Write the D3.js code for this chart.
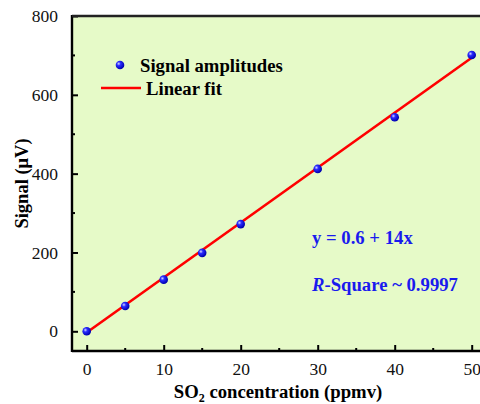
<!DOCTYPE html>
<html>
<head>
<meta charset="utf-8">
<script src="https://cdn.jsdelivr.net/npm/d3@7"></script>
<style>
  body { margin: 0; background: #fff; }
  svg { display: block; font-family: "Liberation Serif", "Times New Roman", serif; }
</style>
</head>
<body>
<div id="chart"></div>
<script>
// 数据
const concentrations = [0, 5, 10, 15, 20, 30, 40, 50];
const amplitudes = [0, 64, 131, 199, 272, 412, 543, 701];
// 拟合直线两端
const fitX = [0, 50];
const fitY = [-3, 694];
const xTicks = [0, 10, 20, 30, 40, 50];
const yTicks = [0, 200, 400, 600, 800];

const width = 480, height = 404;
const plot = {left: 72, top: 16, right: 492, bottom: 351};

const svg = d3.select("#chart").append("svg")
    .attr("width", width)
    .attr("height", height);

// 比例尺
const x = d3.scaleLinear().domain([0, 50]).range([86.7, 471.7]);
const y = d3.scaleLinear().domain([-50, 800]).range([plot.bottom, plot.top]);

// 渐变（球形点）
const defs = svg.append("defs");
const grad = defs.append("radialGradient")
    .attr("id", "ball").attr("cx", "35%").attr("cy", "35%").attr("r", "65%");
grad.append("stop").attr("offset", "0%").attr("stop-color", "#d8d8ff");
grad.append("stop").attr("offset", "35%").attr("stop-color", "#2a2aff");
grad.append("stop").attr("offset", "100%").attr("stop-color", "#0000b0");

// 背景
svg.append("rect")
    .attr("x", plot.left).attr("y", plot.top)
    .attr("width", plot.right - plot.left).attr("height", plot.bottom - plot.top)
    .attr("fill", "#e6fac8");

// 拟合直线
const line = d3.line().x(d => x(d[0])).y(d => y(d[1]));
svg.append("path")
    .datum(fitX.map((d, i) => [d, fitY[i]]))
    .attr("d", line)
    .attr("fill", "none")
    .attr("stroke", "#ff0000")
    .attr("stroke-width", 2.6);

// 数据点
svg.selectAll(".dot")
    .data(concentrations)
    .enter().append("circle")
    .attr("class", "dot")
    .attr("cx", d => x(d))
    .attr("cy", (d, i) => y(amplitudes[i]))
    .attr("r", 4.3)
    .attr("fill", "url(#ball)");

// X轴
const xAxis = svg.append("g")
    .attr("transform", `translate(0, ${plot.bottom})`)
    .call(d3.axisBottom(x).tickValues(xTicks).tickSizeInner(-6).tickSizeOuter(0).tickPadding(12));
xAxis.select(".domain").remove();
xAxis.selectAll("line").attr("stroke", "#000").attr("stroke-width", 2);
xAxis.selectAll("text").attr("font-size", 17.5).attr("fill", "#111")
    .attr("font-family", "Liberation Serif, serif");
// 次刻度
svg.append("g").selectAll("line")
    .data([5, 15, 25, 35, 45])
    .enter().append("line")
    .attr("x1", d => x(d)).attr("x2", d => x(d))
    .attr("y1", plot.bottom).attr("y2", plot.bottom - 3)
    .attr("stroke", "#000").attr("stroke-width", 2);

// Y轴
const yAxis = svg.append("g")
    .attr("transform", `translate(${plot.left}, 0)`)
    .call(d3.axisLeft(y).tickValues(yTicks).tickSizeInner(-6).tickSizeOuter(0).tickPadding(14));
yAxis.select(".domain").remove();
yAxis.selectAll("line").attr("stroke", "#000").attr("stroke-width", 2);
yAxis.selectAll("text").attr("font-size", 17.5).attr("fill", "#111")
    .attr("font-family", "Liberation Serif, serif");
svg.append("g").selectAll("line")
    .data([100, 300, 500, 700])
    .enter().append("line")
    .attr("x1", plot.left).attr("x2", plot.left + 3)
    .attr("y1", d => y(d)).attr("y2", d => y(d))
    .attr("stroke", "#000").attr("stroke-width", 2);

// 边框
svg.append("line")
    .attr("x1", plot.left).attr("x2", plot.left)
    .attr("y1", plot.top - 1).attr("y2", plot.bottom + 1)
    .attr("stroke", "#000").attr("stroke-width", 2.4);
svg.append("line")
    .attr("x1", plot.left).attr("x2", plot.right)
    .attr("y1", plot.bottom).attr("y2", plot.bottom)
    .attr("stroke", "#000").attr("stroke-width", 2.4);
svg.append("line")
    .attr("x1", plot.left).attr("x2", plot.right)
    .attr("y1", plot.top).attr("y2", plot.top)
    .attr("stroke", "#222").attr("stroke-width", 2.4);

// 坐标轴标题
const xTitle = svg.append("text")
    .attr("x", 278).attr("y", 398)
    .attr("text-anchor", "middle")
    .attr("font-size", 18.7).attr("font-weight", "bold");
xTitle.append("tspan").text("SO");
xTitle.append("tspan").attr("font-size", 12).attr("dy", 4).text("2");
xTitle.append("tspan").attr("dy", -4).text(" concentration (ppmv)");

svg.append("text")
    .attr("transform", `translate(28, ${(plot.top + plot.bottom) / 2}) rotate(-90)`)
    .attr("text-anchor", "middle")
    .attr("font-size", 18.5).attr("font-weight", "bold")
    .text("Signal (μV)");

// 图例
svg.append("circle")
    .attr("cx", 120).attr("cy", 65).attr("r", 4.3)
    .attr("fill", "url(#ball)");
svg.append("text")
    .attr("x", 140).attr("y", 65).attr("dy", "0.35em")
    .attr("font-size", 18.7).attr("font-weight", "bold")
    .text("Signal amplitudes");
svg.append("line")
    .attr("x1", 101).attr("x2", 141).attr("y1", 88).attr("y2", 88)
    .attr("stroke", "#ff0000").attr("stroke-width", 2.6);
svg.append("text")
    .attr("x", 146).attr("y", 88).attr("dy", "0.35em")
    .attr("font-size", 18.7).attr("font-weight", "bold")
    .text("Linear fit");

// 拟合公式
svg.append("text")
    .attr("x", 312).attr("y", 237).attr("dy", "0.35em")
    .attr("font-size", 18.7).attr("font-weight", "bold").attr("fill", "#1a1aee")
    .text("y = 0.6 + 14x");
const r2 = svg.append("text")
    .attr("x", 312).attr("y", 284).attr("dy", "0.35em")
    .attr("font-size", 18.7).attr("font-weight", "bold").attr("fill", "#1a1aee");
r2.append("tspan").attr("font-style", "italic").text("R");
r2.append("tspan").text("-Square ~ 0.9997");
</script>
</body>
</html>
